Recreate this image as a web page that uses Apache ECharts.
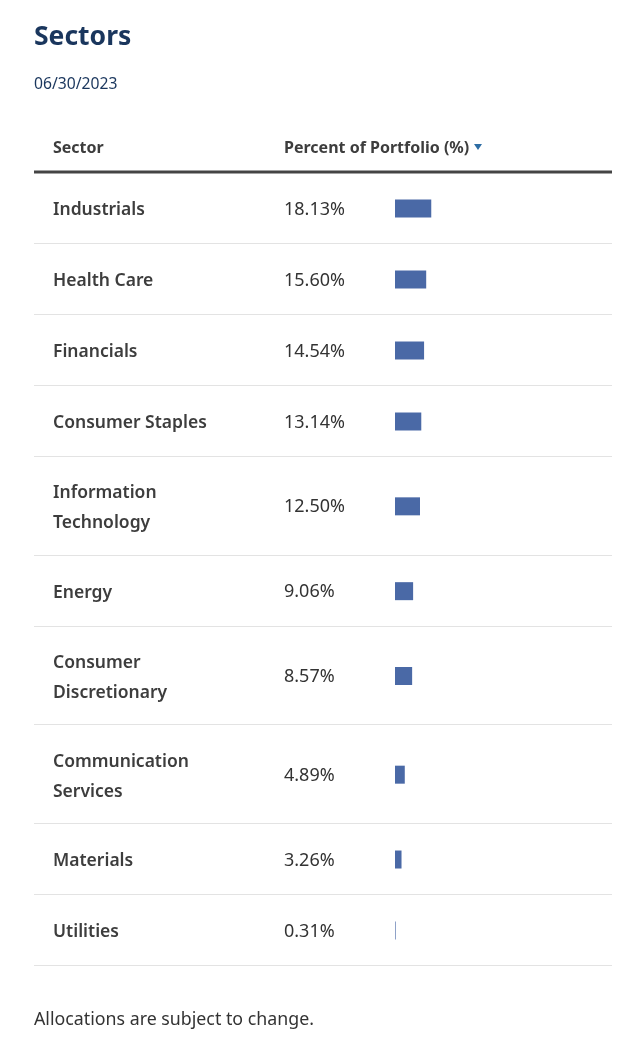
<!DOCTYPE html>
<html><head><meta charset="utf-8">
<script src="https://cdn.jsdelivr.net/npm/echarts@6/dist/echarts.min.js"></script>
<style>html,body{margin:0;padding:0;background:#fff}#c{width:640px;height:1057px}</style>
</head><body><div id="c"></div>
<script>
const sectors = ['Industrials','Health Care','Financials','Consumer Staples','Information\nTechnology','Energy','Consumer\nDiscretionary','Communication\nServices','Materials','Utilities'];
const percents = [18.13,15.60,14.54,13.14,12.50,9.06,8.57,4.89,3.26,0.31];
const titleText = 'Sectors';
const dateText = '06/30/2023';
const headerSector = 'Sector';
const headerPercent = 'Percent of Portfolio (%)';
const footerText = 'Allocations are subject to change.';

const FONT = '"Noto Sans", sans-serif';
const ROW_TOP = 173, H1 = 71, H2 = 98.67;
const BAR_LEFT = 395, BAR_W = 200;
const chart = echarts.init(document.getElementById('c'), null, {renderer:'canvas'});

const grids = [], xAxes = [], yAxes = [], series = [], graphics = [];
let y = ROW_TOP;
sectors.forEach((name, i) => {
  const h = name.indexOf('\n') >= 0 ? H2 : H1;
  grids.push({left: BAR_LEFT, top: y, width: BAR_W, height: h});
  xAxes.push({gridIndex: i, type: 'value', min: 0, max: 100, show: false});
  yAxes.push({gridIndex: i, type: 'category', data: [name],
    axisLine: {show: false}, axisTick: {show: false}, splitLine: {show: false},
    axisLabel: {align: 'left', margin: BAR_LEFT - 53,
      formatter: v => v.split('\n').map(s => '{n|' + s + '}').join('\n'),
      rich: {n: {color: '#3d3d3d', fontFamily: FONT, fontWeight: 600, fontSize: 17.5,
        lineHeight: 30, padding: [4, 0, 0, 0]}}}});
  series.push({type: 'bar', xAxisIndex: i, yAxisIndex: i, data: [percents[i]], barWidth: 18,
    itemStyle: {color: '#4a69a6'}, silent: true,
    label: {show: true, position: [-111, 10], align: 'left', verticalAlign: 'middle',
      color: '#333', fontFamily: FONT, fontSize: 18,
      formatter: p => p.value.toFixed(2) + '%'}});
  y += h;
  graphics.push({type: 'line', shape: {x1: 34, y1: Math.round(y) - 0.5, x2: 612, y2: Math.round(y) - 0.5}, style: {stroke: '#e3e3e3', lineWidth: 1}});
});

graphics.push(
  {type: 'text', left: 34, top: 24, style: {text: titleText, font: '700 26.5px ' + FONT, fill: '#1a365d'}},
  {type: 'text', left: 34, top: 77, style: {text: dateText, font: '400 15.7px ' + FONT, fill: '#1a365d'}},
  {type: 'text', left: 53, top: 140, style: {text: headerSector, font: '700 16px ' + FONT, fill: '#3d3d3d'}},
  {type: 'text', left: 284, top: 140, style: {text: headerPercent, font: '700 16px ' + FONT, fill: '#3d3d3d'}},
  {type: 'polygon', shape: {points: [[474, 144], [482, 144], [478, 150]]}, style: {fill: '#2e6da4'}},
  {type: 'line', shape: {x1: 34, y1: 172, x2: 612, y2: 172}, style: {stroke: '#444', lineWidth: 3}},
  {type: 'text', left: 34, top: 1011, style: {text: footerText, font: '400 17.8px ' + FONT, fill: '#333'}}
);

chart.setOption({animation: false, grid: grids, xAxis: xAxes, yAxis: yAxes, series: series, graphic: graphics});
</script></body></html>
